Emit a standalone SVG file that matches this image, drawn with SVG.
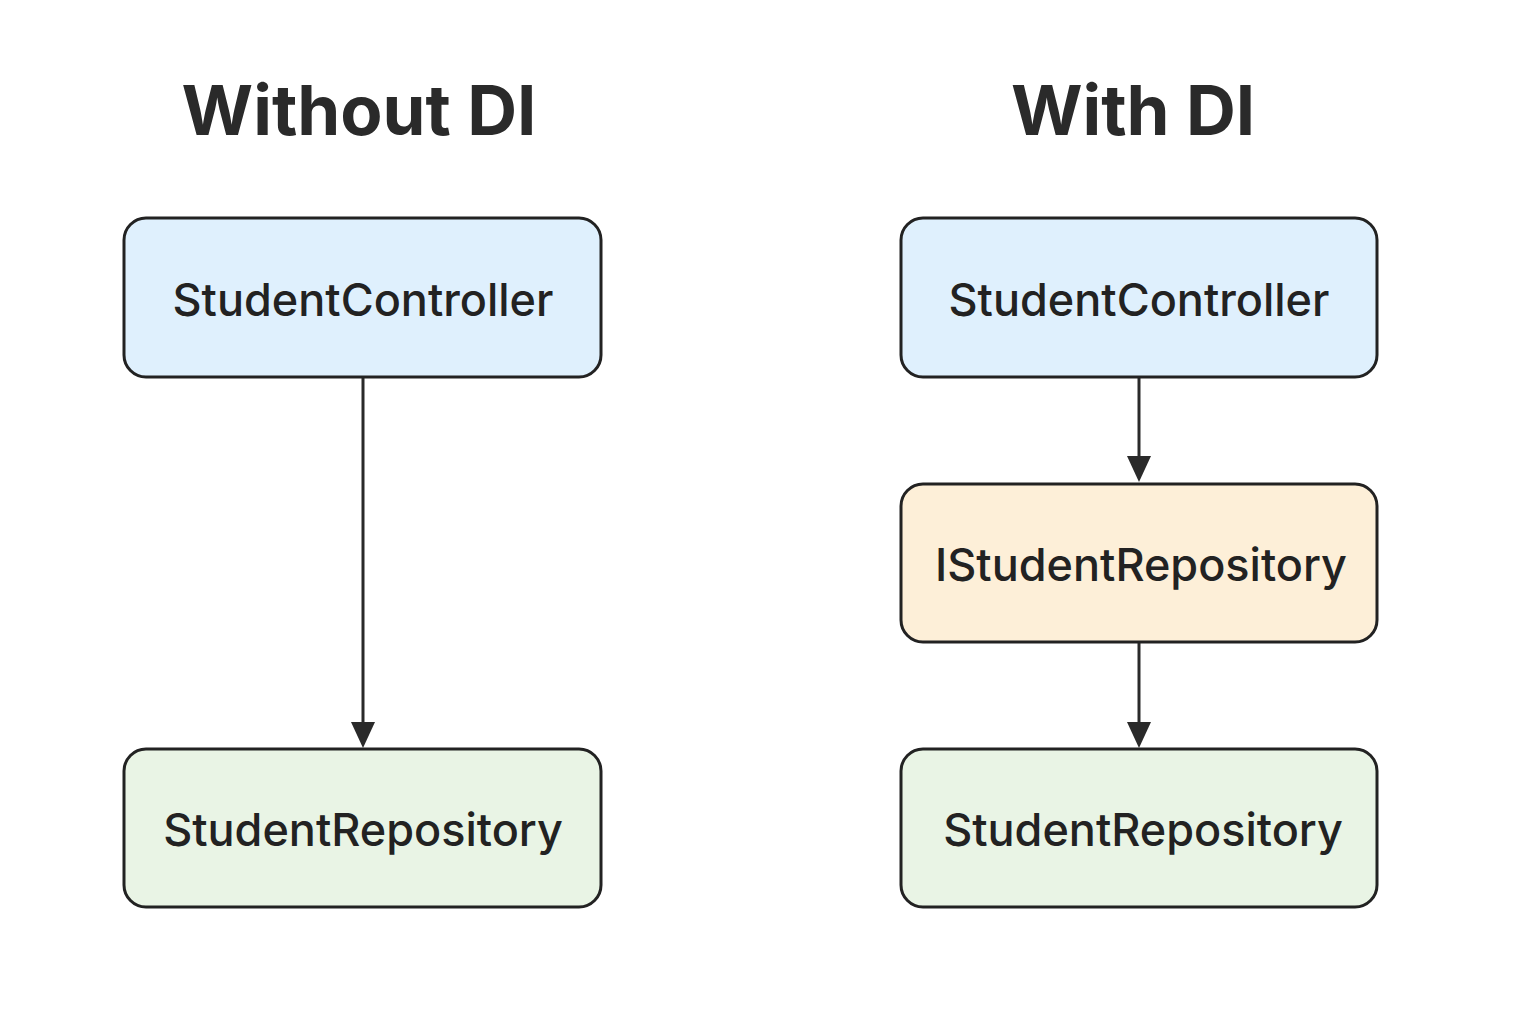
<svg xmlns="http://www.w3.org/2000/svg" width="1536" height="1024" viewBox="0 0 1536 1024">
<style>
.title{font-family:Inter,"Open Sans","Liberation Sans",sans-serif;font-weight:700;font-size:69px;fill:#2a2a2a;text-anchor:middle}
.box{stroke:#222;stroke-width:3}
.lbl{font-family:Inter,"Open Sans","Liberation Sans",sans-serif;font-weight:500;font-size:45px;fill:#222;text-anchor:middle}
.edge{stroke:#2a2a2a;stroke-width:3;fill:none}
</style>
<rect width="1536" height="1024" fill="#fff"/>
<text class="title" x="359" y="135">Without DI</text>
<text class="title" x="1133" y="135">With DI</text>
<g id="edges">
<line class="edge" x1="363" y1="378" x2="363" y2="722"/>
<path d="M351 722 L375 722 L363 748 Z" fill="#2a2a2a"/>
<line class="edge" x1="1139" y1="378" x2="1139" y2="456"/>
<path d="M1127 456 L1151 456 L1139 482 Z" fill="#2a2a2a"/>
<line class="edge" x1="1139" y1="643" x2="1139" y2="722"/>
<path d="M1127 722 L1151 722 L1139 748 Z" fill="#2a2a2a"/>
</g>
<g id="l-controller">
<rect class="box" x="124" y="218" width="477" height="159" rx="22" fill="#dff0fd"/>
<text class="lbl" x="363" y="316">StudentController</text>
</g>
<g id="l-repository">
<rect class="box" x="124" y="749" width="477" height="158" rx="22" fill="#e9f4e5"/>
<text class="lbl" x="363" y="846">StudentRepository</text>
</g>
<g id="r-controller">
<rect class="box" x="901" y="218" width="476" height="159" rx="22" fill="#dff0fd"/>
<text class="lbl" x="1139" y="316">StudentController</text>
</g>
<g id="r-interface">
<rect class="box" x="901" y="484" width="476" height="158" rx="22" fill="#fdefd8"/>
<text class="lbl" x="1141" y="581">IStudentRepository</text>
</g>
<g id="r-repository">
<rect class="box" x="901" y="749" width="476" height="158" rx="22" fill="#e9f4e5"/>
<text class="lbl" x="1143" y="846">StudentRepository</text>
</g>
</svg>
